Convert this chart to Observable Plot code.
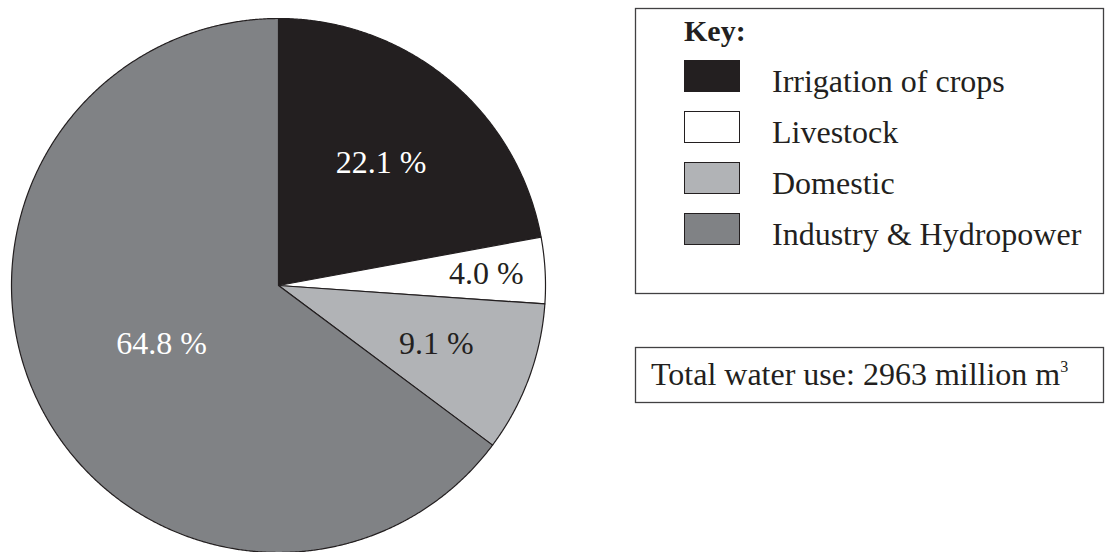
<!DOCTYPE html>
<html>
<head>
<meta charset="utf-8">
<script src="https://cdn.jsdelivr.net/npm/d3@7"></script>
<script src="https://cdn.jsdelivr.net/npm/@observablehq/plot@0.6"></script>
<style>
  html, body { margin: 0; padding: 0; background: #fff; }
  #wrap { position: relative; width: 1109px; height: 552px; overflow: hidden; font-family: "Liberation Serif", "Times New Roman", serif; }
  #pie { position: absolute; left: 0; top: 0; }
  #legend { position: absolute; left: 0; top: 0; }
</style>
</head>
<body>
<div id="wrap"><div id="pie"></div><svg id="legend" width="1109" height="552"></svg></div>
<script>
// ---- data ----
const categories = ["Irrigation of crops", "Livestock", "Domestic", "Industry & Hydropower"];
const shares = [22.1, 4.0, 9.1, 64.8];
const colors = ["#231f20", "#ffffff", "#b1b3b6", "#808285"];
const labelColors = ["#ffffff", "#231f20", "#231f20", "#ffffff"];
const keyTitle = "Key:";
const totalText = "Total water use: 2963 million m";
const totalSup = "3";

const font = '"Liberation Serif", "Times New Roman", serif';

// ---- pie geometry via d3.pie ----
const arcs = d3.pie().sort(null).value(d => d.share)(
  categories.map((c, i) => ({category: c, share: shares[i], label: shares[i].toFixed(1) + " %", tc: labelColors[i]}))
);
const outline = [];
for (const a of arcs) {
  outline.push({category: a.data.category, x: 0, y: 0});
  const n = Math.max(4, Math.ceil((a.endAngle - a.startAngle) / 0.005));
  for (let k = 0; k <= n; k++) {
    const t = a.startAngle + (a.endAngle - a.startAngle) * k / n;
    outline.push({category: a.data.category, x: Math.sin(t), y: Math.cos(t)});
  }
}
const labels = arcs.map(a => {
  const m = (a.startAngle + a.endAngle) / 2;
  const v = a.data.share;
  const r = v < 5 ? 0.78 : v < 10 ? 0.63 : v < 50 ? 0.6 : 0.49;
  return {x: r * Math.sin(m), y: r * Math.cos(m), label: a.data.label, tc: a.data.tc};
});

const pie = Plot.plot({
  width: 556, height: 552,
  marginLeft: 11, marginRight: 11, marginTop: 18, marginBottom: 0,
  x: {domain: [-1, 1], axis: null},
  y: {domain: [-1, 1], axis: null},
  color: {domain: categories, range: colors},
  style: {background: "transparent", fontFamily: font, overflow: "visible"},
  marks: [
    Plot.line(outline, {x: "x", y: "y", z: "category", fill: "category", stroke: "#231f20", strokeWidth: 1.2, curve: "linear-closed", strokeLinejoin: "round"}),
    Plot.text(labels, {x: "x", y: "y", text: "label", fill: d => d.tc, fontSize: 32, fontFamily: font})
  ]
});
document.getElementById("pie").appendChild(pie);

// ---- key & total boxes ----
const svg = d3.select("#legend");
svg.append("rect").attr("x", 635.5).attr("y", 8.5).attr("width", 468).attr("height", 285)
  .attr("fill", "none").attr("stroke", "#414042").attr("stroke-width", 1.3);
svg.append("text").attr("x", 684).attr("y", 41).text(keyTitle)
  .attr("font-family", font).attr("font-size", 30).attr("font-weight", "bold").attr("fill", "#231f20");
categories.forEach((c, i) => {
  const y0 = 60 + i * 51;
  svg.append("rect").attr("x", 684.5).attr("y", y0 + 0.5).attr("width", 55).attr("height", 31)
    .attr("fill", colors[i]).attr("stroke", "#231f20").attr("stroke-width", 1);
  svg.append("text").attr("x", 772).attr("y", y0 + 32).text(c)
    .attr("font-family", font).attr("font-size", 32).attr("fill", "#231f20");
});
svg.append("rect").attr("x", 635.5).attr("y", 347.5).attr("width", 468).attr("height", 55)
  .attr("fill", "none").attr("stroke", "#414042").attr("stroke-width", 1.3);
const t = svg.append("text").attr("x", 651).attr("y", 385)
  .attr("font-family", font).attr("font-size", 32).attr("fill", "#231f20");
t.append("tspan").text(totalText);
t.append("tspan").attr("dy", -13).attr("font-size", 16).text(totalSup);
</script>
</body>
</html>
